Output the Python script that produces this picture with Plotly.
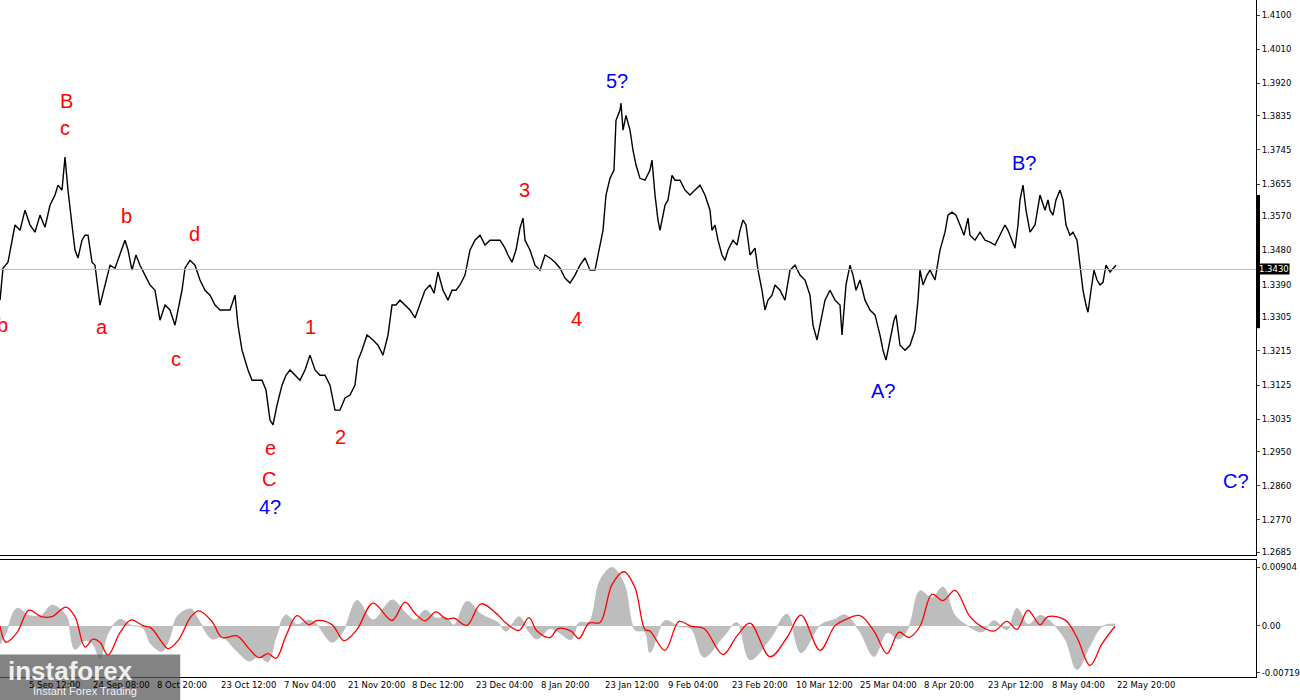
import plotly.graph_objects as go

bar = [0,3,8,15,20,25,30,35,40,45,50,55,58,62,65,68,72,75,78,82,85,88,92,95,100,105,110,115,120,125,128,132,136,140,145,150,155,160,165,170,175,178,182,185,190,195,200,205,210,215,220,225,230,235,238,242,248,252,256,262,266,270,273,277,282,286,290,295,300,305,310,315,320,325,330,335,340,345,350,355,358,362,367,373,378,383,388,392,396,400,405,410,415,420,425,430,434,438,443,448,452,456,460,465,470,475,480,485,490,495,500,505,508,512,516,520,523,525,530,535,540,545,550,555,560,565,570,575,580,585,590,595,600,603,606,610,614,616,618,620,621,623,626,630,633,636,640,645,650,652,655,658,660,665,668,672,675,680,685,690,695,700,705,710,712,715,718,722,725,728,733,737,740,743,746,750,755,758,762,765,768,772,775,780,785,790,795,800,805,810,813,817,820,825,830,835,840,842,846,850,853,856,860,865,870,875,880,883,886,890,894,896,900,905,910,915,918,920,923,927,930,935,940,945,948,952,956,960,964,968,970,975,980,985,990,995,1000,1005,1008,1012,1015,1018,1020,1023,1026,1030,1035,1040,1045,1048,1050,1053,1056,1060,1063,1066,1070,1073,1077,1080,1083,1086,1088,1091,1094,1097,1100,1103,1106,1110,1113,1116]
close = [1.3349,1.3433,1.3449,1.3547,1.3533,1.3586,1.3547,1.3528,1.3573,1.3541,1.3599,1.3626,1.3652,1.3639,1.3726,1.3639,1.3547,1.3481,1.3460,1.3507,1.3520,1.3520,1.3449,1.3441,1.3336,1.3389,1.3441,1.3433,1.3468,1.3507,1.3481,1.3428,1.3468,1.3441,1.3415,1.3389,1.3375,1.3296,1.3336,1.3323,1.3283,1.3323,1.3375,1.3433,1.3454,1.3441,1.3402,1.3375,1.3362,1.3336,1.3323,1.3323,1.3323,1.3362,1.3283,1.3217,1.3165,1.3138,1.3138,1.3138,1.3112,1.3033,1.3020,1.3072,1.3125,1.3151,1.3165,1.3151,1.3138,1.3165,1.3204,1.3165,1.3151,1.3151,1.3125,1.3059,1.3059,1.3091,1.3099,1.3125,1.3191,1.3217,1.3257,1.3244,1.3230,1.3204,1.3257,1.3336,1.3336,1.3349,1.3336,1.3323,1.3302,1.3341,1.3375,1.3389,1.3367,1.3423,1.3375,1.3349,1.3375,1.3375,1.3389,1.3415,1.3481,1.3507,1.3520,1.3494,1.3507,1.3507,1.3507,1.3486,1.3468,1.3449,1.3481,1.3539,1.3565,1.3507,1.3481,1.3441,1.3428,1.3468,1.3460,1.3449,1.3433,1.3407,1.3394,1.3415,1.3441,1.3460,1.3428,1.3428,1.3494,1.3533,1.3626,1.3670,1.3692,1.3823,1.3836,1.3850,1.3868,1.3797,1.3836,1.3797,1.3744,1.3705,1.3670,1.3665,1.3692,1.3718,1.3626,1.3560,1.3533,1.3599,1.3613,1.3678,1.3665,1.3665,1.3639,1.3626,1.3639,1.3652,1.3626,1.3586,1.3533,1.3547,1.3507,1.3468,1.3454,1.3481,1.3507,1.3494,1.3533,1.3560,1.3547,1.3468,1.3486,1.3428,1.3375,1.3323,1.3349,1.3362,1.3389,1.3375,1.3349,1.3428,1.3441,1.3415,1.3402,1.3362,1.3283,1.3244,1.3283,1.3349,1.3375,1.3349,1.3336,1.3257,1.3389,1.3441,1.3415,1.3375,1.3402,1.3349,1.3323,1.3310,1.3257,1.3217,1.3191,1.3244,1.3296,1.3310,1.3230,1.3217,1.3230,1.3270,1.3349,1.3428,1.3389,1.3415,1.3428,1.3402,1.3481,1.3528,1.3573,1.3581,1.3573,1.3547,1.3520,1.3565,1.3520,1.3507,1.3528,1.3507,1.3502,1.3494,1.3520,1.3547,1.3533,1.3507,1.3486,1.3547,1.3613,1.3652,1.3586,1.3528,1.3547,1.3626,1.3586,1.3613,1.3586,1.3573,1.3613,1.3639,1.3613,1.3547,1.3520,1.3528,1.3507,1.3441,1.3375,1.3336,1.3317,1.3375,1.3428,1.3402,1.3389,1.3396,1.3441,1.3423,1.3433,1.3441]

osc_bar = [0,6,17,29,41,52,66,75,85,93,100,108,120,131,143,151,162,168,178,191,199,212,222,237,249,259,268,276,286,297,309,317,332,344,357,373,392,405,415,425,436,446,454,467,481,498,506,519,529,537,550,558,571,579,589,600,612,624,635,645,
           650,665,679,691,704,723,737,750,770,787,801,820,835,845,860,874,887,899,909,920,932,943,955,970,982,994,1007,1017,1028,1040,1048,1065,1077,1090,1102,1115]
signal_milli = [0,-2.52,-1.04,2.42,1.43,1.43,2.91,1.43,-3.26,-2.03,-2.52,-4.5,-1.04,0.94,0.05,-0.3,-2.52,-3.5,-2.27,1.43,2.32,0.69,-1.78,-1.53,-3.5,-4.89,-4.25,-4.99,-1.53,1.58,0.2,0.84,0.2,-2.27,-0.54,3.51,0.84,3.66,1.93,0.79,2.17,1.09,1.19,0.1,3.41,1.68,0.44,-0.69,1.28,-0.79,-1.78,-0.4,-0.79,-1.93,0.44,0.54,6.37,8.35,5.88,-0.54,
                -0.79,-3.75,0.69,-0.05,-0.4,-4.4,-1.53,0.44,-4.74,-1.78,1.68,-3.75,0.05,0.94,1.58,-0.79,-4.25,-0.94,-1.78,-0.05,4.89,3.9,5.48,1.43,-0.15,-0.79,0.69,-0.54,2.42,0.2,1.43,0.94,-1.78,-6.08,-2.77,-0.05]
hist_milli = [-2.8,-1.1,2.7,1.6,1.6,3.2,1.6,-3.6,-2.2,-2.8,-5.0,-1.1,1.0,0.1,-0.3,-2.8,-3.9,-2.5,1.6,2.6,0.8,-2.0,-1.7,-3.9,-5.4,-4.7,-5.5,-1.7,1.7,0.2,0.9,0.2,-2.5,-0.6,3.9,0.9,4.0,2.1,0.9,2.4,1.2,1.3,0.1,3.8,1.8,0.5,-0.8,1.4,-0.9,-2.0,-0.4,-0.9,-2.1,0.5,0.6,7.0,9.0,6.5,-0.6,-0.9,
              -4.1,0.8,-0.1,-0.4,-4.8,-1.7,0.5,-5.2,-2.0,1.8,-4.1,0.1,1.0,1.7,-0.9,-4.7,-1.0,-2.0,-0.1,5.4,4.3,6.0,1.6,-0.2,-0.9,0.8,-0.6,2.7,0.2,1.6,1.0,-2.0,-6.7,-3.0,-0.1,0.3]

price_ticks = [1.4100,1.4010,1.3920,1.3835,1.3745,1.3655,1.3570,1.3480,1.3390,1.3305,1.3215,1.3125,1.3035,1.2950,1.2860,1.2770,1.2685]
osc_ticks = [0.00904, 0.0, -0.00719]
osc_ticktext = ["0.00904", "0.00", "-0.00719"]
date_ticks = [27,91,155,219,282,346,410,474,539,603,666,730,794,858,922,986,1050,1115]
date_labels = ["5 Sep 12:00","24 Sep 08:00","8 Oct 20:00","23 Oct 12:00","7 Nov 04:00","21 Nov 20:00","8 Dec 12:00","23 Dec 04:00","8 Jan 20:00","23 Jan 12:00","9 Feb 04:00","23 Feb 20:00","10 Mar 12:00","25 Mar 04:00","8 Apr 20:00","23 Apr 12:00","8 May 04:00","22 May 20:00"]
current_price = 1.3430

wave_text = ["b","B","c","a","b","c","d","e","C","4?","1","2","3","4","5?","A?","B?","C?"]
wave_bar = [2,66,65,102,126,176,194,270,269,270,310,340,524,576,617,883,1024,1236]
wave_price = [1.3283,1.3873,1.3802,1.3278,1.3570,1.3194,1.3523,1.2959,1.2877,1.2804,1.3278,1.2988,1.3639,1.3299,1.3926,1.3109,1.3710,1.2872]
wave_color = ["red"]*9 + ["blue"] + ["red"]*4 + ["blue"]*4

FONT = "DejaVu Sans"
fig = go.Figure()
fig.add_trace(go.Scatter(x=bar, y=close, mode="lines", line=dict(color="black", width=1.4),
                         xaxis="x", yaxis="y", hoverinfo="skip"))
fig.add_trace(go.Scatter(x=osc_bar, y=[v/1000 for v in hist_milli], mode="lines", fill="tozeroy",
                         fillcolor="#bdbdbd", line=dict(color="#bdbdbd", width=1, shape="spline"),
                         xaxis="x2", yaxis="y2", hoverinfo="skip"))
fig.add_trace(go.Scatter(x=osc_bar, y=[v/1000 for v in signal_milli], mode="lines",
                         line=dict(color="red", width=1.3, shape="spline"),
                         xaxis="x2", yaxis="y2", hoverinfo="skip"))

ann = []
for t, b, p, c in zip(wave_text, wave_bar, wave_price, wave_color):
    ann.append(dict(x=b, y=p, xref="x", yref="y", text=t, showarrow=False,
                    font=dict(family="Liberation Sans", size=20, color=c)))
for b, lab in zip(date_ticks, date_labels):
    ann.append(dict(x=b, y=0.031, xref="x2", yref="paper", text=lab, showarrow=False,
                    xanchor="left", yanchor="top", font=dict(family=FONT, size=8.5, color="black")))
ann.append(dict(x=1.0, y=current_price, xref="paper", yref="y", text=f"{current_price:.4f}",
                showarrow=False, xanchor="left", xshift=2, bgcolor="black",
                font=dict(family=FONT, size=8.5, color="white"), borderpad=0))
ann.append(dict(x=0.005, y=0.0, xref="paper", yref="paper", text="<b>instaforex</b>", showarrow=False,
                xanchor="left", yanchor="bottom", yshift=12,
                font=dict(family="Liberation Sans", size=26, color="rgba(255,255,255,0.9)")))
ann.append(dict(x=0.025, y=0.0, xref="paper", yref="paper", text="Instant Forex Trading", showarrow=False,
                xanchor="left", yanchor="bottom", yshift=1,
                font=dict(family="Liberation Sans", size=11, color="rgba(255,255,255,0.9)")))

shapes = [
    dict(type="line", xref="paper", yref="y", x0=0, x1=1, y0=current_price, y1=current_price,
         line=dict(color="#bbbbbb", width=1)),
    dict(type="line", xref="paper", yref="y", x0=1.002, x1=1.002, y0=1.3626, y1=1.3275,
         line=dict(color="black", width=3)),
    dict(type="rect", xref="paper", yref="paper", x0=0, x1=0.1435, y0=0, y1=0.065,
         fillcolor="rgba(90,90,90,0.75)", line=dict(width=0), layer="above"),
]

axis_common = dict(showgrid=False, zeroline=False, showline=True, linecolor="black", linewidth=1,
                   mirror=True, automargin=False)
fig.update_layout(
    width=1300, height=700, margin=dict(l=0, r=44, t=0, b=0, autoexpand=False),
    paper_bgcolor="white", plot_bgcolor="white", showlegend=False,
    xaxis=dict(range=[0, 1256], domain=[0, 1], anchor="y", showticklabels=False, ticks="", **axis_common),
    yaxis=dict(range=[1.2677, 1.4140], domain=[0.207, 1], side="right", tickvals=price_ticks,
               ticktext=[f"{v:.4f}" for v in price_ticks], ticks="outside", ticklen=3,
               tickfont=dict(family=FONT, size=8.5, color="black"), **axis_common),
    xaxis2=dict(range=[0, 1256], domain=[0, 1], anchor="y2", showticklabels=False, ticks="", **axis_common),
    yaxis2=dict(range=[-0.00785, 0.01016], domain=[0.033, 0.2], side="right", tickvals=osc_ticks,
                ticktext=osc_ticktext, ticks="outside", ticklen=3,
                tickfont=dict(family=FONT, size=8.5, color="black"), **axis_common),
    annotations=ann, shapes=shapes,
)
fig.write_html("out.html", config={"displayModeBar": False})
with open("out.html", encoding="utf-8") as f:
    html = f.read()
html = html.replace("<head>", "<head><style>html,body{margin:0;padding:0;overflow:hidden}</style>", 1)
with open("out.html", "w", encoding="utf-8") as f:
    f.write(html)
